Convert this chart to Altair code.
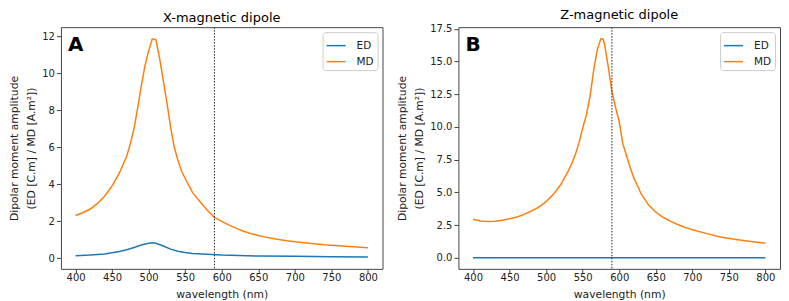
import altair as alt
import pandas as pd

# ---- data ----
X_MD_WL = [400, 410, 420, 430, 440, 450, 460, 470, 475, 480, 485, 490, 495, 500, 505, 510, 515, 520, 525, 530, 535, 540, 545, 550,
           560, 570, 580, 590, 600, 610, 620, 630, 640, 650, 660, 670, 680, 690, 700, 720, 740, 760, 780, 800]
X_MD = [2.30, 2.45, 2.65, 2.95, 3.35, 3.90, 4.60, 5.50, 6.20, 7.00, 8.10, 9.30, 10.40, 11.20, 11.85, 11.80, 10.80, 9.60, 8.40, 7.10,
        6.00, 5.30, 4.70, 4.30, 3.55, 3.05, 2.60, 2.20, 1.98, 1.78, 1.60, 1.45, 1.32, 1.22, 1.13, 1.06, 0.99, 0.93, 0.88,
        0.80, 0.72, 0.66, 0.61, 0.56]
X_ED_WL = [400, 420, 440, 450, 460, 470, 480, 490, 500, 505, 510, 520, 530, 540, 550, 560, 580, 600, 650, 700, 750, 800]
X_ED = [0.12, 0.16, 0.22, 0.28, 0.35, 0.45, 0.57, 0.70, 0.80, 0.83, 0.80, 0.65, 0.48, 0.37, 0.30, 0.25, 0.20, 0.16, 0.11, 0.09,
        0.07, 0.06]

Z_MD_WL = [400, 410, 420, 430, 440, 450, 460, 470, 480, 490, 500, 510, 520, 530, 535, 540, 545, 550, 555, 560, 565, 570, 575,
           578, 580, 585, 590, 595, 600, 605, 610, 615, 620, 630, 640, 650, 660, 670, 680, 690, 700, 720, 740, 760, 780, 800]
Z_MD = [2.95, 2.82, 2.78, 2.80, 2.88, 2.98, 3.12, 3.32, 3.58, 3.88, 4.30, 4.85, 5.60, 6.60, 7.20, 7.90, 8.80, 9.90, 10.90, 12.30,
        14.30, 15.90, 16.75, 16.70, 16.30, 14.60, 12.70, 11.50, 10.40, 8.70, 7.80, 6.90, 6.10, 4.90, 4.05, 3.50, 3.10, 2.80, 2.55,
        2.33, 2.15, 1.85, 1.58, 1.40, 1.25, 1.12]
Z_ED_WL = [400, 500, 600, 700, 800]
Z_ED = [0.0, 0.0, 0.0, 0.0, 0.0]

SERIES = ["ED", "MD"]
COLORS = ["#1f77b4", "#ff7f0e"]
TITLES = ["X-magnetic dipole", "Z-magnetic dipole"]
LETTERS = ["A", "B"]
X_TICKS = [400, 450, 500, 550, 600, 650, 700, 750, 800]
Y_TICKS_X = [0, 2, 4, 6, 8, 10, 12]
Y_TICKS_Z = [0.0, 2.5, 5.0, 7.5, 10.0, 12.5, 15.0, 17.5]
MARKER_WL = [590]
Y_TITLE = ["Dipolar moment amplitude", "(ED [C.m] / MD [A.m²])"]


def frame(ed_wl, ed, md_wl, md):
    a = pd.DataFrame({"wl": ed_wl, "val": ed, "series": "ED"})
    b = pd.DataFrame({"wl": md_wl, "val": md, "series": "MD"})
    return pd.concat([a, b], ignore_index=True)


def panel(df, title, letter, ydom, yticks, yfmt):
    xscale = alt.Scale(domain=[380, 820], nice=False, zero=False)
    lines = alt.Chart(df).mark_line(strokeWidth=1.5, clip=True).encode(
        x=alt.X("wl:Q", scale=xscale,
                axis=alt.Axis(values=X_TICKS, format="d", title="wavelength (nm)")),
        y=alt.Y("val:Q", scale=alt.Scale(domain=ydom, nice=False, zero=False),
                axis=alt.Axis(values=yticks, format=yfmt, title=Y_TITLE)),
        color=alt.Color("series:N", scale=alt.Scale(domain=SERIES, range=COLORS), title=None,
                        legend=alt.Legend(orient="top-right", offset=5)),
        detail="series:N",
    )
    rule = alt.Chart(pd.DataFrame({"wl": MARKER_WL})).mark_rule(
        strokeDash=[1.5, 1.5], color="#222", strokeWidth=1).encode(x=alt.X("wl:Q", scale=xscale))
    txt = alt.Chart(pd.DataFrame({"t": [letter]})).mark_text(
        fontSize=20, fontWeight="bold", align="left", baseline="alphabetic", color="black",
        font="DejaVu Sans").encode(text="t:N", x=alt.value(7), y=alt.value(24))
    return alt.layer(lines, rule, txt).properties(
        width=322, height=242,
        title=alt.TitleParams(title, fontSize=13, fontWeight="normal", offset=2, color="black", anchor="middle"))


left = panel(frame(X_ED_WL, X_ED, X_MD_WL, X_MD), TITLES[0], LETTERS[0], [-0.585, 12.48], Y_TICKS_X, "d")
right = panel(frame(Z_ED_WL, Z_ED, Z_MD_WL, Z_MD), TITLES[1], LETTERS[1], [-0.84, 17.62], Y_TICKS_Z, ".1f")

chart = alt.hconcat(left, right, spacing=12).resolve_scale(color="independent").properties(
    padding={"left": 0, "top": 0, "right": 0, "bottom": 0}
).configure(font="DejaVu Sans").configure_view(
    stroke="#444", strokeWidth=1
).configure_axis(
    grid=False, domain=False, tickColor="#444", tickSize=4.5, labelFontSize=10, labelColor="#222",
    titleFontSize=10.8, titleFontWeight="normal", titleColor="#222", labelPadding=2,
).configure_axisX(titlePadding=6, labelPadding=0, tickSize=4).configure_axisY(
    titlePadding=5, titleLineHeight=17
).configure_legend(
    strokeColor="#ccc", fillColor="white", cornerRadius=3, padding=3, symbolType="stroke",
    symbolStrokeWidth=1.5, symbolSize=361, labelFontSize=10.5, labelColor="#222", rowPadding=0, labelOffset=10,
)

chart.save("out.html", embed_options={"renderer": "svg", "actions": False})
